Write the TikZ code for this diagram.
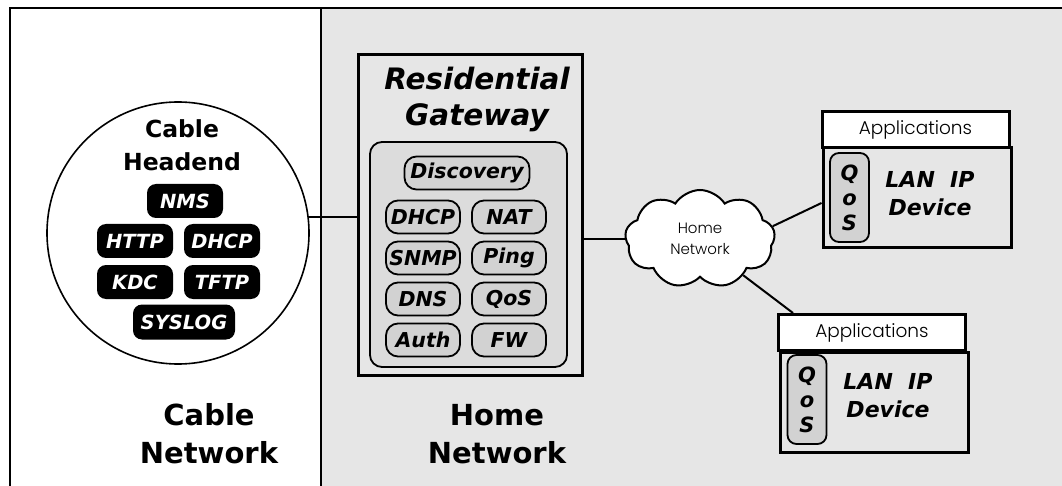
\documentclass[tikz,border=0pt]{standalone}
\usepackage{fontspec}
\setmainfont{DejaVu Sans}
\newfontfamily\lightfont{Poppins Light}
\usetikzlibrary{shapes.symbols, calc}

\definecolor{bggray}{HTML}{E6E6E6}
\definecolor{innergray}{HTML}{DCDCDC}
\definecolor{pillgray}{HTML}{D2D2D2}

\tikzset{
  hpill/.style={fill=black, text=white, rounded corners=9pt, minimum width=76pt,
    minimum height=34pt, inner sep=0pt,
    font=\bfseries\itshape\fontsize{19.5}{19.5}\selectfont},
  gpill/.style={draw, line width=1.8pt, fill=pillgray, rounded corners=12pt,
    minimum width=74pt, minimum height=33pt, inner sep=0pt,
    font=\bfseries\itshape\fontsize{20.5}{20.5}\selectfont},
  boldlabel/.style={align=center, font=\bfseries\fontsize{29}{38}\selectfont},
  devbox/.style={draw, line width=3pt, fill=bggray, minimum width=188pt,
    minimum height=100pt, inner sep=0pt},
  appbox/.style={draw, line width=3pt, fill=white, minimum width=187pt,
    minimum height=36pt, inner sep=0pt, font=\lightfont\fontsize{18.5}{18.5}\selectfont},
  qospill/.style={draw, line width=1.8pt, fill=pillgray, rounded corners=9pt,
    minimum width=39pt, minimum height=89pt, inner sep=0pt, align=center,
    font=\bfseries\itshape\fontsize{21}{25}\selectfont},
  devlabel/.style={align=center, font=\bfseries\itshape\fontsize{22}{28}\selectfont},
  link/.style={line width=2pt}
}

\begin{document}
\begin{tikzpicture}[x=1pt, y=-1pt]
  \useasboundingbox (0,0) rectangle (1062,486);
  \clip (0,0) rectangle (1062,486);

  % panels and frame
  \fill[white] (0,0) rectangle (1062,486);
  \fill[bggray] (321,8) rectangle (1062,486);
  \draw[line width=2pt] (10,492) -- (10,8) -- (1066,8);
  \draw[line width=2pt] (321,8) -- (321,492);

  % cable headend
  \node[circle, draw, line width=1.6pt, fill=white, minimum size=262pt, inner sep=0pt]
    (headend) at (178,233) {};
  \node[align=center, font=\bfseries\fontsize{23.5}{33}\selectfont] (hetitle) at (182,145)
    {Cable\\Headend};
  \node[hpill] (nms)    at (185,201) {NMS};
  \node[hpill] (http)   at (135,241) {HTTP};
  \node[hpill] (hdhcp)  at (222,241) {DHCP};
  \node[hpill] (kdc)    at (135,282) {KDC};
  \node[hpill] (tftp)   at (222,282) {TFTP};
  \node[hpill, minimum width=102pt, minimum height=35pt] (syslog) at (184,322) {SYSLOG};

  % residential gateway
  \node[draw, line width=3pt, fill=bggray, minimum width=224pt, minimum height=320pt,
    inner sep=0pt] (gateway) at (470,215) {};
  \node[align=center, font=\bfseries\itshape\fontsize{29.5}{36}\selectfont] (gwtitle)
    at (477,99) {Residential\\Gateway};
  \node[draw, line width=1.8pt, fill=innergray, rounded corners=12pt, minimum width=197pt,
    minimum height=225pt, inner sep=0pt] (services) at (468.5,254.5) {};
  \node[gpill, minimum width=125pt] (discovery) at (467,173) {Discovery};
  \node[gpill] (gdhcp) at (423,217) {DHCP};
  \node[gpill] (nat)   at (509,217) {NAT};
  \node[gpill] (snmp)  at (423,258) {SNMP};
  \node[gpill] (ping)  at (509,258) {Ping};
  \node[gpill] (dns)   at (423,299) {DNS};
  \node[gpill] (qos)   at (509,299) {QoS};
  \node[gpill] (auth)  at (423,340) {Auth};
  \node[gpill] (fw)    at (509,340) {FW};

  % section labels
  \node[boldlabel] (cablenet) at (209,434) {Cable\\Network};
  \node[boldlabel] (homenet)  at (497,434) {Home\\Network};

  % home network cloud
  \node[cloud, draw, line width=2pt, fill=white, cloud puffs=9, cloud puff arc=115,
    aspect=1.5, minimum width=150pt, minimum height=98pt, inner sep=0pt, align=center,
    font=\lightfont\fontsize{15}{21}\selectfont] (cloud) at (700,239) {Home\\Network};

  % first LAN IP device
  \node[devbox] (dev1) at (917,198) {};
  \node[appbox] (app1) at (915.5,129.5) {Applications};
  \node[qospill] (qos1) at (849.5,197.5) {Q\\o\\S};
  \node[devlabel] (lan1) at (930,194) {LAN\ \ IP\\Device};

  % second LAN IP device
  \node[devbox] (dev2) at (874.5,402) {};
  \node[appbox] (app2) at (872,332.5) {Applications};
  \node[qospill] (qos2) at (807,399.5) {Q\\o\\S};
  \node[devlabel] (lan2) at (888,396) {LAN\ \ IP\\Device};

  % connections
  \draw[link] (headend.7) -- (headend.7 -| gateway.west);
  \draw[link] (gateway.east |- cloud.west) -- (cloud.west);
  \draw[link] (cloud.10) -- ($(dev1.west)+(0,5)$);
  \draw[link] (cloud.-40) -- ($(app2.north west)+(16,0)$);
\end{tikzpicture}
\end{document}
